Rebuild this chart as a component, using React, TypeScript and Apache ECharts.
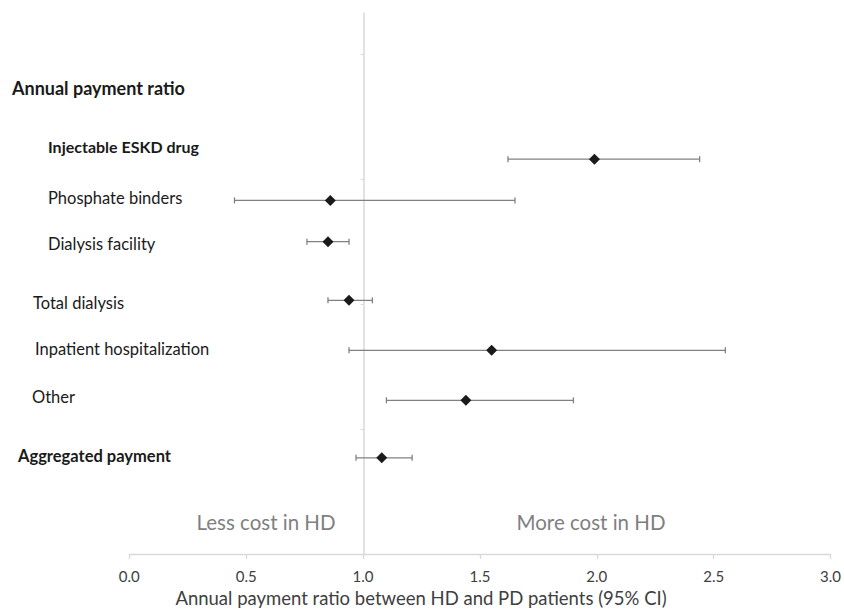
import React, { useEffect, useRef } from "react";
import * as echarts from "echarts";

// ---- data ----
const categories = [
  "Injectable ESKD drug",
  "Phosphate binders",
  "Dialysis facility",
  "Total dialysis",
  "Inpatient hospitalization",
  "Other",
  "Aggregated payment",
];
const ratio = [1.99, 0.86, 0.85, 0.94, 1.55, 1.44, 1.08];
const lower = [1.62, 0.45, 0.76, 0.85, 0.94, 1.1, 0.97];
const upper = [2.44, 1.65, 0.94, 1.04, 2.55, 1.9, 1.21];
const rowPos = [3.16, 2.83, 2.5, 2.03, 1.63, 1.23, 0.77];
const yTicks = [0, 1, 2, 3, 4];
const yMax = 4.33;
const xTickLabels = ["0.0", "0.5", "1.0", "1.5", "2.0", "2.5", "3.0"];

const rowTexts = [
  "Annual payment ratio",
  "Injectable ESKD drug",
  "Phosphate binders",
  "Dialysis facility",
  "Total dialysis",
  "Inpatient hospitalization",
  "Other",
  "Aggregated payment",
];
const rowBold = [true, true, false, false, false, false, false, true];
const sideTexts = ["Less cost in HD", "More cost in HD"];
const xTitle = "Annual payment ratio between HD and PD patients (95% CI)";

// ---- layout (pixels) ----
const rowTextX = [12, 48, 48, 48, 33, 35, 32, 18];
const rowTextY = [88, 146, 198, 244, 303, 349, 397, 456];
const rowTextSize = [18, 16, 16.5, 16.5, 16.5, 16.5, 16.5, 16.5];

export default function App() {
  const ref = useRef<HTMLDivElement>(null);
  useEffect(() => {
    const chart = echarts.init(ref.current!, null, { renderer: "svg" });
    const font = "Lato, 'Open Sans', sans-serif";
    const errData = categories.map((c, i) => [lower[i], upper[i], rowPos[i], c]);
    const pointData = categories.map((c, i) => [ratio[i], rowPos[i], c]);

    const graphics: any[] = rowTexts.map((t, i) => ({
      type: "text",
      x: rowTextX[i],
      y: rowTextY[i],
      style: {
        text: t,
        fontFamily: font,
        fontSize: rowTextSize[i],
        fontWeight: rowBold[i] ? "bold" : "normal",
        fill: "#1a1a1a",
        align: "left",
        verticalAlign: "middle",
      },
    }));
    graphics.push(
      {
        type: "text",
        x: 266,
        y: 522,
        style: {
          text: sideTexts[0],
          fontFamily: font,
          fontSize: 20.5,
          fill: "#7f7f7f",
          align: "center",
          verticalAlign: "middle",
        },
      },
      {
        type: "text",
        x: 591,
        y: 522,
        style: {
          text: sideTexts[1],
          fontFamily: font,
          fontSize: 20.5,
          fill: "#7f7f7f",
          align: "center",
          verticalAlign: "middle",
        },
      },
      {
        type: "text",
        x: 421,
        y: 598,
        style: {
          text: xTitle,
          fontFamily: font,
          fontSize: 18.5,
          fill: "#404040",
          align: "center",
          verticalAlign: "middle",
        },
      }
    );

    const option: any = {
      animation: false,
      grid: [
        { left: 129.3, right: 11.7, top: 13, bottom: 60 },
        { left: 363.6, right: 11.7, top: 13, bottom: 60 },
      ],
      xAxis: [
        {
          gridIndex: 0,
          type: "value",
          min: 0,
          max: 3,
          interval: 0.5,
          axisLine: { show: true, lineStyle: { color: "#d9d9d9", width: 1.3 } },
          axisTick: { show: true, length: 5, lineStyle: { color: "#d9d9d9", width: 1.3 } },
          axisLabel: {
            formatter: (v: number) => xTickLabels[Math.round(v / 0.5)] ?? v.toFixed(1),
            color: "#404040",
            fontFamily: font,
            fontSize: 15,
            margin: 14,
          },
          splitLine: { show: false },
        },
        { gridIndex: 1, type: "value", min: 0, max: 1, show: false },
      ],
      yAxis: [
        { gridIndex: 0, type: "value", min: 0, max: yMax, show: false },
        {
          gridIndex: 1,
          type: "value",
          min: 0,
          max: yMax,
          interval: 1,
          axisLine: { show: true, lineStyle: { color: "#d9d9d9", width: 1.5 } },
          axisTick: {
            show: true,
            length: 3,
            customValues: yTicks,
            lineStyle: { color: "#d9d9d9" },
          },
          axisLabel: { show: false },
          splitLine: { show: false },
        },
      ],
      series: [
        {
          type: "custom",
          xAxisIndex: 0,
          yAxisIndex: 0,
          data: errData,
          encode: { x: [0, 1], y: 2 },
          z: 3,
          renderItem: (params: any, api: any) => {
            const lo = api.coord([api.value(0), api.value(2)]);
            const hi = api.coord([api.value(1), api.value(2)]);
            const style = { stroke: "#808080", lineWidth: 1.3 };
            const cap = 3;
            return {
              type: "group",
              children: [
                { type: "line", shape: { x1: lo[0], y1: lo[1], x2: hi[0], y2: hi[1] }, style },
                { type: "line", shape: { x1: lo[0], y1: lo[1] - cap, x2: lo[0], y2: lo[1] + cap }, style },
                { type: "line", shape: { x1: hi[0], y1: hi[1] - cap, x2: hi[0], y2: hi[1] + cap }, style },
              ],
            };
          },
        },
        {
          type: "scatter",
          xAxisIndex: 0,
          yAxisIndex: 0,
          data: pointData,
          symbol: "diamond",
          symbolSize: 11,
          z: 4,
          itemStyle: { color: "#1a1a1a", opacity: 1 },
        },
      ],
      graphic: graphics,
    };
    chart.setOption(option);
    return () => chart.dispose();
  }, []);
  return (
    <div
      ref={ref}
      style={{ position: "absolute", left: 0, top: 0, width: 844, height: 614, background: "#fff" }}
    />
  );
}
